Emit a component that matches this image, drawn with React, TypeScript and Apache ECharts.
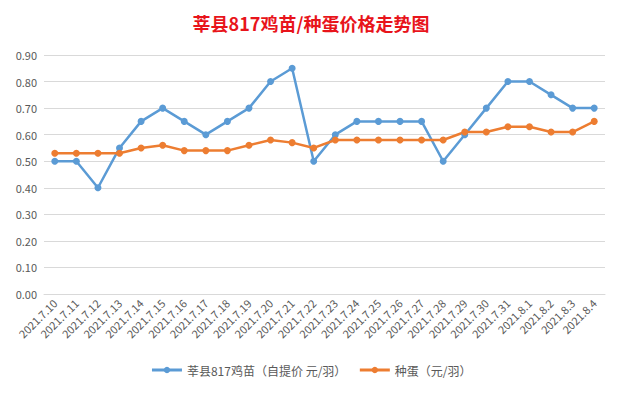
import React, { useEffect, useRef } from "react";
import * as echarts from "echarts";

const categories = [
  "2021.7.10", "2021.7.11", "2021.7.12", "2021.7.13", "2021.7.14", "2021.7.15",
  "2021.7.16", "2021.7.17", "2021.7.18", "2021.7.19", "2021.7.20", "2021.7.21",
  "2021.7.22", "2021.7.23", "2021.7.24", "2021.7.25", "2021.7.26", "2021.7.27",
  "2021.7.28", "2021.7.29", "2021.7.30", "2021.7.31", "2021.8.1", "2021.8.2",
  "2021.8.3", "2021.8.4",
];

const chickPrice = [
  0.50, 0.50, 0.40, 0.55, 0.65, 0.70, 0.65, 0.60, 0.65, 0.70, 0.80, 0.85,
  0.50, 0.60, 0.65, 0.65, 0.65, 0.65, 0.50, 0.60, 0.70, 0.80, 0.80, 0.75,
  0.70, 0.70,
];

const eggPrice = [
  0.53, 0.53, 0.53, 0.53, 0.55, 0.56, 0.54, 0.54, 0.54, 0.56, 0.58, 0.57,
  0.55, 0.58, 0.58, 0.58, 0.58, 0.58, 0.58, 0.61, 0.61, 0.63, 0.63, 0.61,
  0.61, 0.65,
];

const seriesNames = ["莘县817鸡苗（自提价 元/羽）", "种蛋（元/羽）"];
const titleText = "莘县817鸡苗/种蛋价格走势图";

export default function App() {
  const ref = useRef<HTMLDivElement>(null);
  useEffect(() => {
    if (!ref.current) return;
    const chart = echarts.init(ref.current, undefined, { renderer: "svg" });
    const font = "'Microsoft YaHei', 'Noto Sans CJK SC', 'Noto Sans', sans-serif";
    chart.setOption({
      animation: false,
      backgroundColor: "#ffffff",
      textStyle: { fontFamily: font },
      title: {
        text: titleText,
        left: "center",
        top: 9,
        textStyle: {
          color: "#E8141B",
          fontSize: 18,
          fontWeight: "bold",
          fontFamily: "'Noto Sans CJK SC', sans-serif",
        },
      },
      grid: { left: 44, right: 17, top: 55, bottom: 99, containLabel: false },
      legend: {
        bottom: 12,
        left: "center",
        itemWidth: 30,
        itemHeight: 8,
        itemGap: 12,
        lineStyle: { width: 3 },
        textStyle: { color: "#595959", fontSize: 12, fontFamily: font },
        data: seriesNames,
      },
      xAxis: {
        type: "category",
        data: categories,
        boundaryGap: true,
        axisLine: { show: true, lineStyle: { color: "#D9D9D9" } },
        axisTick: { show: false },
        axisLabel: {
          interval: 0,
          rotate: 45,
          color: "#595959",
          fontSize: 11,
          margin: 7,
          fontFamily: font,
        },
      },
      yAxis: {
        type: "value",
        min: 0,
        max: 0.9,
        interval: 0.1,
        axisLine: { show: false },
        axisTick: { show: false },
        splitLine: { lineStyle: { color: "#D9D9D9", width: 1 } },
        axisLabel: {
          color: "#595959",
          fontSize: 11,
          margin: 7,
          fontFamily: font,
          formatter: (v: number) => v.toFixed(2),
        },
      },
      series: [
        {
          name: seriesNames[0],
          type: "line",
          data: chickPrice,
          symbol: "circle",
          symbolSize: 7,
          itemStyle: { color: "#5B9BD5" },
          lineStyle: { color: "#5B9BD5", width: 2.5 },
        },
        {
          name: seriesNames[1],
          type: "line",
          data: eggPrice,
          symbol: "circle",
          symbolSize: 7,
          itemStyle: { color: "#ED7D31" },
          lineStyle: { color: "#ED7D31", width: 2.5 },
        },
      ],
      graphic: [
        {
          type: "rect",
          shape: { x: 2.5, y: 2.5, width: 615, height: 388 },
          style: { fill: "none", stroke: "#D9D9D9", lineWidth: 1 },
          silent: true,
        },
      ],
    });
    return () => chart.dispose();
  }, []);
  return (
    <div style={{ margin: -8 }}>
      <div ref={ref} style={{ width: 622, height: 393 }} />
    </div>
  );
}
